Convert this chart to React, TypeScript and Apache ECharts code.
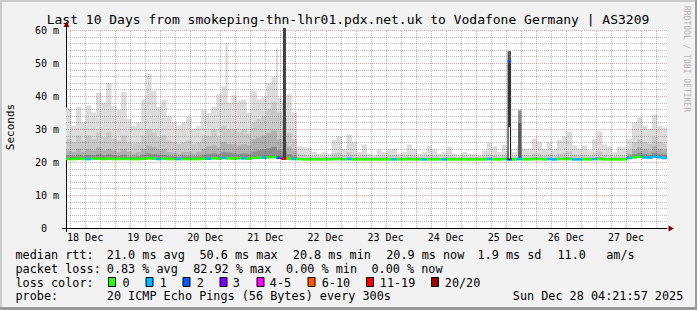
import React, { useEffect, useRef } from "react";
import * as echarts from "echarts";

const MONO = '"DejaVu Sans Mono", "Liberation Mono", monospace';

// time axis in hours since 18 Dec 00:00 (graph local time)
const START_HOUR = 4.366; // 18 Dec 04:21:57
const SPAN_HOURS = 240;
const BUCKET_HOURS = 2;

const titleText = "Last 10 Days from smokeping-thn-lhr01.pdx.net.uk to Vodafone Germany | AS3209";
const dayLabels = ["18 Dec", "19 Dec", "20 Dec", "21 Dec", "22 Dec", "23 Dec", "24 Dec", "25 Dec", "26 Dec", "27 Dec"];
const dayLabelHours = [12, 36, 60, 84, 108, 132, 156, 180, 204, 228];
const yTickValues = [0, 10, 20, 30, 40, 50, 60];

// smoke layers (ms), one value per 2-hour bucket
const smokeMax = [
  36.5, 31, 36.7, 32, 37.1, 35, 41, 38, 44, 37,
  35.8, 41.2, 33, 31, 32, 39, 46.8, 41.5, 36.7, 38.8,
  34, 32, 31, 32, 33.7, 30, 31, 35.8, 34.8, 36.7,
  40.5, 42.9, 38, 40.2, 38.6, 38.9, 35, 41.5, 39, 39.6,
  44, 45.7, 39.4, 38, 40.5, 35, 24.8, 24.5, 24.3, 23,
  22.5, 23, 22.5, 26.8, 27.8, 24, 28.3, 26, 23, 25.3,
  22.5, 22, 23.6, 23, 23.8, 24, 22.5, 23, 25.3, 24,
  22.5, 23, 25, 23.6, 22.5, 23, 24.7, 22.5, 22, 23,
  22.5, 22.5, 22, 23.5, 25.8, 24.7, 23, 25.3, 24, 23,
  25, 24, 24, 27.1, 26, 24, 26, 24, 26.6, 27.8,
  29.3, 25, 24, 25, 23.5, 27, 29.3, 25.3, 24.7, 23,
  24.7, 24.5, 27, 31.9, 33.5, 31, 30, 34.4, 31, 30.5,
];
const smokeMid = [
  27, 26, 28, 26.5, 28, 27, 29, 27.5, 29, 27,
  26.5, 28, 26, 25.5, 26, 28, 30, 29, 27.5, 28,
  26.5, 26, 25.5, 26, 26.5, 25.5, 26, 28, 27.8, 29.8,
  28, 31, 30, 29.8, 29, 29.8, 28.5, 32, 33, 34,
  36, 38, 35, 33, 29, 27, 22.4, 22.2, 22.0, 21.8,
  21.6, 21.8, 21.6, 22.6, 22.8, 22.0, 23.0, 22.4, 21.8, 22.2,
  21.6, 21.5, 21.9, 21.7, 21.9, 22.0, 21.6, 21.7, 22.2, 21.9,
  21.6, 21.7, 22.1, 21.8, 21.6, 21.7, 22.0, 21.6, 21.5, 21.7,
  21.6, 21.6, 21.5, 21.8, 22.3, 22.0, 21.7, 22.2, 21.9, 21.7,
  22.0, 21.9, 21.9, 22.6, 22.4, 21.9, 22.4, 21.9, 22.5, 22.8,
  23.2, 22.1, 21.9, 22.1, 21.8, 22.6, 23.2, 22.2, 22.0, 21.7,
  22.0, 22.0, 23.5, 26, 27, 26, 25.5, 27.5, 26, 25.5,
];
const smokeDark = [
  23.5, 23, 24, 23, 24, 23.5, 24.5, 23.5, 24, 23.5,
  23, 24, 23, 22.5, 23, 24, 25, 24.5, 24, 24,
  23, 22.8, 22.5, 23, 23, 22.5, 23, 24, 24.8, 25,
  24.5, 26, 25.5, 25.4, 25, 25.4, 25, 27, 27.5, 28,
  28.9, 29.5, 27, 26, 24.5, 23.5, 21.2, 21.2, 21.1, 21.1,
  21.0, 21.1, 21.0, 21.3, 21.4, 21.1, 21.4, 21.2, 21.1, 21.2,
  21.0, 21.0, 21.1, 21.1, 21.1, 21.1, 21.0, 21.1, 21.2, 21.1,
  21.0, 21.1, 21.2, 21.1, 21.0, 21.1, 21.2, 21.0, 21.0, 21.1,
  21.0, 21.0, 21.0, 21.1, 21.3, 21.2, 21.1, 21.2, 21.1, 21.1,
  21.2, 21.1, 21.1, 21.3, 21.3, 21.1, 21.3, 21.1, 21.3, 21.4,
  21.5, 21.2, 21.1, 21.2, 21.1, 21.3, 21.5, 21.2, 21.1, 21.1,
  21.2, 21.2, 22.5, 23.8, 24.5, 23.8, 23.5, 24.8, 24, 23.6,
];
const smokeCore = [
  22.0, 21.8, 22.2, 21.8, 22.2, 22.0, 22.4, 22.0, 22.3, 22.0,
  21.8, 22.2, 21.7, 21.6, 21.8, 22.2, 22.6, 22.4, 22.2, 22.2,
  21.8, 21.7, 21.6, 21.8, 21.8, 21.6, 21.8, 22.2, 22.4, 22.6,
  22.4, 23.0, 22.8, 22.6, 22.4, 22.6, 22.4, 23.2, 23.6, 23.8,
  24.2, 24.6, 23.6, 23.2, 22.4, 21.8, 20.9, 20.8, 20.8, 20.8,
  20.8, 20.8, 20.8, 20.9, 20.9, 20.8, 20.9, 20.8, 20.8, 20.8,
  20.8, 20.8, 20.8, 20.8, 20.8, 20.8, 20.8, 20.8, 20.9, 20.8,
  20.8, 20.8, 20.8, 20.8, 20.8, 20.8, 20.8, 20.8, 20.8, 20.8,
  20.8, 20.8, 20.8, 20.8, 20.9, 20.8, 20.8, 20.9, 20.8, 20.8,
  20.9, 20.8, 20.8, 20.9, 20.9, 20.8, 20.9, 20.8, 20.9, 20.9,
  20.9, 20.8, 20.8, 20.8, 20.8, 20.9, 20.9, 20.8, 20.8, 20.8,
  20.8, 20.8, 21.8, 22.4, 22.8, 22.4, 22.2, 22.8, 22.5, 22.3,
];
const medianRtt = [
  20.9, 20.9, 21.0, 20.9, 20.9, 21.0, 21.0, 20.9, 21.0, 20.9,
  20.9, 21.0, 20.9, 20.9, 20.9, 21.0, 21.1, 21.0, 20.9, 21.0,
  20.9, 20.9, 20.9, 20.9, 20.9, 20.9, 20.9, 21.0, 21.0, 21.1,
  21.0, 21.2, 21.1, 21.0, 21.1, 21.1, 21.0, 21.2, 21.3, 21.3,
  21.4, 21.5, 21.3, 21.0, 21.0, 20.9, 20.9, 20.8, 20.8, 20.8,
  20.8, 20.8, 20.8, 20.9, 20.9, 20.8, 20.9, 20.8, 20.8, 20.8,
  20.8, 20.8, 20.8, 20.8, 20.8, 20.8, 20.8, 20.8, 20.9, 20.8,
  20.8, 20.8, 20.8, 20.8, 20.8, 20.8, 20.8, 20.8, 20.8, 20.8,
  20.8, 20.8, 20.8, 20.8, 20.9, 20.8, 20.8, 20.9, 20.8, 20.8,
  20.9, 20.8, 20.8, 20.9, 20.9, 20.8, 20.9, 20.8, 20.9, 20.9,
  20.9, 20.8, 20.8, 20.8, 20.8, 20.9, 20.9, 20.8, 20.8, 20.8,
  20.8, 20.8, 21.2, 21.4, 21.6, 21.4, 21.3, 21.6, 21.4, 21.2,
];
// index into lossColors
const lossCode = [
  0, 0, 0, 0, 1, 0, 0, 0, 0, 0,
  0, 0, 0, 0, 0, 0, 0, 0, 1, 0,
  0, 0, 1, 0, 0, 0, 0, 0, 1, 0,
  0, 1, 0, 0, 0, 1, 0, 0, 0, 1,
  0, 0, 2, 6, 0, 1, 0, 0, 0, 0,
  0, 0, 0, 0, 0, 0, 1, 0, 0, 0,
  0, 0, 0, 0, 0, 1, 0, 0, 0, 0,
  0, 1, 0, 0, 0, 1, 0, 0, 0, 0,
  0, 0, 0, 0, 1, 0, 0, 0, 2, 0,
  1, 0, 0, 0, 0, 0, 1, 1, 0, 0,
  0, 1, 1, 0, 0, 1, 0, 0, 0, 0,
  0, 0, 1, 0, 0, 1, 1, 1, 1, 1,
];

// narrow single peaks of the outer smoke
const peakStart = [68.0, 88.2];
const peakEnd = [69.0, 89.0];
const peakValue = [56.1, 54.4];

// short high-loss events
const eventStart = [91.0, 180.7, 184.9];
const eventEnd = [92.2, 182.1, 186.3];
const eventTop = [60.6, 53.6, 35.7];
const eventUpper = [60.6, 50.5, 31.9];
const eventLower = [21.2, 30.8, 21.2];
const eventMedian = [21.0, 50.5, 21.0];
const eventLoss = [6, 2, 1];

const lossLabels = ["0", "1", "2", "3", "4-5", "6-10", "11-19", "20/20"];
const lossColors = ["#26ff00", "#00b8ff", "#0059ff", "#7e00ff", "#ff00ff", "#ff5500", "#ff0000", "#a10000"];

const statLine1 = ["median rtt:", "21.0 ms avg", "50.6 ms max", "20.8 ms min", "20.9 ms now", "1.9 ms sd", "11.0", "am/s"];
const statLine2 = ["packet loss:", "0.83 % avg", "82.92 % max", "0.00 % min", "0.00 % now"];
const probeLine = ["probe:", "20 ICMP Echo Pings (56 Bytes) every 300s", "Sun Dec 28 04:21:57 2025"];

// layout (pixels)
const line1X = [15.5, 106.8, 199.5, 292.8, 386.2, 477.5, 557.5, 606.2];
const line2X = [15.5, 106.8, 193.2, 286.0, 371.5];
const line4X = [15.5, 106.8, 512.8];
const boxX = [108, 145.5, 182.5, 219.5, 256.5, 307.5, 366, 431];
const boxLabelX = [122.5, 159.8, 196.8, 232.8, 269.8, 321.8, 379.8, 444.8];

const eventTopColor = ["#404040", "#585858", "#8c8c8c"];
const eventBodyColor = ["#404040", "#353535", "#5c5c5c"];
const eventHollow = [false, true, false];

const smokeColors = ["#dcdcdc", "#c9c9c9", "#b0b0b0", "#8f8f8f"];

function bucketRange(i: number): [number, number] {
  const a = START_HOUR + i * BUCKET_HOURS;
  return [a, a + BUCKET_HOURS];
}

function layerSeries(values: number[], color: string, z: number) {
  const data = values.map((v, i) => {
    const [a, b] = bucketRange(i);
    return [a, b, medianRtt[i] - 0.2, v];
  });
  return {
    type: "custom",
    z,
    clip: true,
    encode: { x: [0, 1], y: [2, 3] },
    data,
    renderItem: (_p: any, api: any) => {
      const p0 = api.coord([api.value(0), api.value(3)]);
      const p1 = api.coord([api.value(1), api.value(2)]);
      const h = p1[1] - p0[1];
      if (h <= 1.0) return null;
      return {
        type: "rect",
        shape: { x: p0[0], y: p0[1], width: p1[0] - p0[0] + 0.5, height: h },
        style: { fill: color },
      };
    },
  };
}

export default function App() {
  const ref = useRef<HTMLDivElement>(null);

  useEffect(() => {
    document.body.style.margin = "0";
    if (!ref.current) return;
    const chart = echarts.init(ref.current, undefined, { renderer: "svg" });

    const peakData = peakValue.map((v, i) => [peakStart[i], peakEnd[i], 20.8, v]);

    const medianData = medianRtt.map((m, i) => {
      const [a, b] = bucketRange(i);
      return [a, b, m, lossCode[i]];
    });

    const eventData = eventStart.map((s, i) => [s, eventEnd[i], eventTop[i], eventUpper[i], eventLower[i], eventMedian[i], eventLoss[i], i]);

    const vGrid: number[][] = [];
    for (let h = 6; h < START_HOUR + SPAN_HOURS; h += 6) {
      if (h > START_HOUR) vGrid.push([h, 0, h % 24 === 0 ? 1 : 0]);
    }
    const hGrid: number[][] = [];
    for (let v = 2; v <= 60; v += 2) hGrid.push([START_HOUR, v, v % 10 === 0 ? 1 : 0]);

    const majorColor = "rgba(210,50,50,0.45)";
    const minorColor = "rgba(90,90,90,0.42)";

    const graphic: any[] = [
      { type: "rect", shape: { x: 0, y: 0, width: 697, height: 2 }, style: { fill: "#cbcbcb" }, silent: true },
      { type: "rect", shape: { x: 0, y: 0, width: 2, height: 310 }, style: { fill: "#cbcbcb" }, silent: true },
      { type: "rect", shape: { x: 695, y: 0, width: 2, height: 310 }, style: { fill: "#9a9a9a" }, silent: true },
      { type: "rect", shape: { x: 0, y: 307, width: 697, height: 3 }, style: { fill: "#9a9a9a" }, silent: true },
      {
        type: "text", x: 348, y: 19,
        style: { text: titleText, font: `13px ${MONO}`, fill: "#000", align: "center", verticalAlign: "middle" },
      },
      {
        type: "text", x: 10.5, y: 127, rotation: Math.PI / 2,
        style: { text: "Seconds", font: `11px ${MONO}`, fill: "#000", align: "center", verticalAlign: "middle" },
      },
      {
        type: "text", x: 686.5, y: 59, rotation: -Math.PI / 2,
        style: { text: "RRDTOOL / TOBI OETIKER", font: `8px ${MONO}`, fill: "#b4b4b4", align: "center", verticalAlign: "middle" },
      },
      // axis arrows
      { type: "polygon", shape: { points: [[66.5, 21.5], [63.5, 27], [69.5, 27]] }, style: { fill: "#7f0000" }, z: 20 },
      { type: "polygon", shape: { points: [[674, 228.5], [668.5, 225.5], [668.5, 231.5]] }, style: { fill: "#7f0000" }, z: 20 },
      { type: "line", shape: { x1: 66.5, y1: 27, x2: 66.5, y2: 30 }, style: { stroke: "#000", lineWidth: 1 } },
      { type: "line", shape: { x1: 66.5, y1: 228, x2: 66.5, y2: 232 }, style: { stroke: "#000", lineWidth: 1 } },
      { type: "line", shape: { x1: 62, y1: 228.5, x2: 66, y2: 228.5 }, style: { stroke: "#000", lineWidth: 1 } },
    ];

    const legendFont = `11.8px ${MONO}`;
    const addLine = (items: string[], xs: number[], y: number) => {
      items.forEach((t, i) => {
        graphic.push({ type: "text", x: xs[i], y, style: { text: t, font: legendFont, fill: "#000", align: "left", verticalAlign: "middle" } });
      });
    };
    addLine(statLine1, line1X, 254.5);
    addLine(statLine2, line2X, 268.5);
    graphic.push({ type: "text", x: 15.5, y: 282.5, style: { text: "loss color:", font: legendFont, fill: "#000", align: "left", verticalAlign: "middle" } });
    lossLabels.forEach((lab, i) => {
      graphic.push({ type: "rect", shape: { x: boxX[i] + 0.5, y: 277.5, width: 7, height: 9 }, style: { fill: lossColors[i], stroke: "#000", lineWidth: 1 } });
      graphic.push({ type: "text", x: boxLabelX[i], y: 282.5, style: { text: lab, font: legendFont, fill: "#000", align: "left", verticalAlign: "middle" } });
    });
    addLine(probeLine, line4X, 296);

    const option: any = {
      animation: false,
      backgroundColor: "#f2f2f2",
      grid: { left: 66, top: 30, width: 601, height: 198, show: true, backgroundColor: "#ffffff", borderWidth: 0 },
      xAxis: {
        type: "value",
        min: START_HOUR,
        max: START_HOUR + SPAN_HOURS,
        axisLine: { show: true, onZero: false, lineStyle: { color: "#000", width: 1 } },
        axisTick: { show: false },
        splitLine: { show: false },
        axisLabel: {
          customValues: dayLabelHours,
          formatter: (v: number) => {
            const k = dayLabelHours.findIndex((h) => Math.abs(h - v) < 1e-6);
            return k >= 0 ? dayLabels[k] : "";
          },
          fontFamily: MONO,
          fontSize: 10,
          color: "#000",
          margin: 4,
        },
      },
      yAxis: {
        type: "value",
        min: 0,
        max: 60,
        interval: 10,
        axisLine: { show: true, lineStyle: { color: "#000", width: 1 } },
        axisTick: { show: false },
        splitLine: { show: false },
        axisLabel: {
          customValues: yTickValues,
          formatter: (v: number) => (v === 0 ? "0\u00a0\u00a0" : `${v} m`),
          fontFamily: MONO,
          fontSize: 10,
          color: "#000",
          margin: 7,
        },
      },
      graphic,
      series: [
        layerSeries(smokeMax, smokeColors[0], 2),
        {
          type: "custom", z: 2, clip: true, encode: { x: [0, 1], y: [2, 3] }, data: peakData,
          renderItem: (_p: any, api: any) => {
            const p0 = api.coord([api.value(0), api.value(3)]);
            const p1 = api.coord([api.value(1), api.value(2)]);
            return { type: "rect", shape: { x: p0[0], y: p0[1], width: p1[0] - p0[0], height: p1[1] - p0[1] }, style: { fill: smokeColors[0] } };
          },
        },
        layerSeries(smokeMid, smokeColors[1], 3),
        layerSeries(smokeDark, smokeColors[2], 4),
        layerSeries(smokeCore, smokeColors[3], 5),
        {
          type: "custom", z: 6, clip: true, encode: { x: [0, 1], y: 2 }, data: medianData,
          renderItem: (_p: any, api: any) => {
            const a = api.coord([api.value(0), api.value(2)]);
            const b = api.coord([api.value(1), api.value(2)]);
            return { type: "rect", shape: { x: a[0], y: a[1] - 1.3, width: b[0] - a[0] + 0.4, height: 2.6 }, style: { fill: lossColors[api.value(3)] } };
          },
        },
        {
          type: "custom", z: 7, clip: false, encode: { x: [0, 1], y: [2, 4] }, data: eventData,
          renderItem: (_p: any, api: any) => {
            const x0 = api.value(0);
            const x1 = api.value(1);
            const idx = api.value(7);
            const top = api.coord([x0, api.value(2)]);
            const upper = api.coord([x1, api.value(3)]);
            const lower = api.coord([x1, api.value(4)]);
            const med = api.coord([x1, api.value(5)]);
            const base = api.coord([x1, 20.9]);
            const left = top[0];
            const w = upper[0] - left;
            const children: any[] = [];
            if (eventHollow[idx]) {
              children.push({ type: "rect", shape: { x: left + 0.5, y: lower[1], width: w - 1, height: base[1] - lower[1] }, style: { fill: "#ffffff", stroke: "#000", lineWidth: 1 } });
            }
            children.push({ type: "rect", shape: { x: left, y: upper[1], width: w, height: lower[1] - upper[1] }, style: { fill: eventBodyColor[idx] } });
            if (upper[1] - top[1] > 0.1) {
              children.push({ type: "rect", shape: { x: left, y: top[1], width: w, height: upper[1] - top[1] }, style: { fill: eventTopColor[idx] } });
            }
            children.push({ type: "rect", shape: { x: left, y: med[1] - 1.3, width: w, height: 2.6 }, style: { fill: lossColors[api.value(6)] } });
            return { type: "group", children };
          },
        },
        {
          type: "custom", z: 8, clip: true, encode: { x: 0, y: 1 }, data: vGrid, silent: true,
          renderItem: (_p: any, api: any) => {
            const a = api.coord([api.value(0), 0]);
            const b = api.coord([api.value(0), 60]);
            const x = Math.round(a[0]) + 0.5;
            return { type: "line", shape: { x1: x, y1: a[1], x2: x, y2: b[1] }, style: { stroke: api.value(2) ? majorColor : minorColor, lineWidth: 1, lineDash: [1, 1] } };
          },
        },
        {
          type: "custom", z: 8, clip: true, encode: { x: 0, y: 1 }, data: hGrid, silent: true,
          renderItem: (_p: any, api: any) => {
            const a = api.coord([START_HOUR, api.value(1)]);
            const b = api.coord([START_HOUR + SPAN_HOURS, api.value(1)]);
            const y = Math.round(a[1]) + 0.5;
            return { type: "line", shape: { x1: a[0], y1: y, x2: b[0], y2: y }, style: { stroke: api.value(2) ? majorColor : minorColor, lineWidth: 1, lineDash: [1, 1] } };
          },
        },
      ],
    };

    chart.setOption(option);
    return () => chart.dispose();
  }, []);

  return <div ref={ref} style={{ width: 697, height: 310 }} />;
}
